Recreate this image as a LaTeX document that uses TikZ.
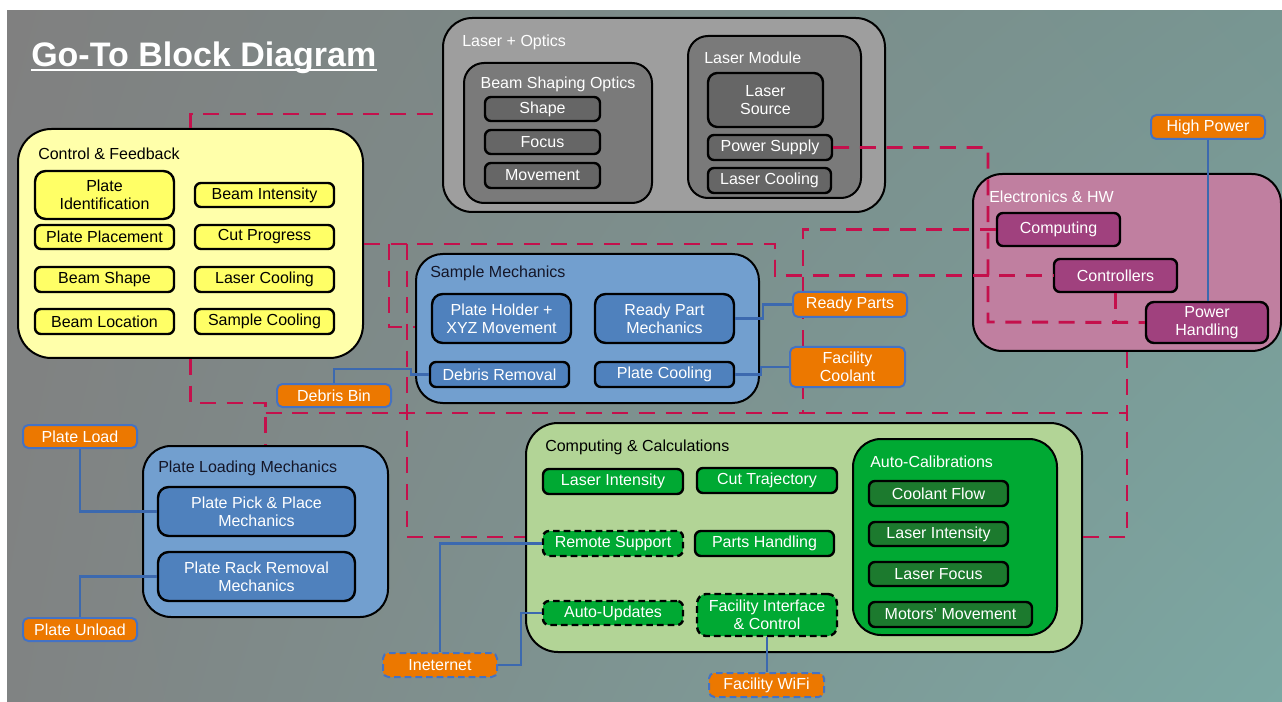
\documentclass[tikz,border=0pt]{standalone}
\usepackage{fontspec}
\setmainfont{Liberation Sans}
\usetikzlibrary{shadings}
\definecolor{crim}{RGB}{196,16,76}
\definecolor{wireblue}{RGB}{60,105,175}
\definecolor{obord}{RGB}{68,114,196}
\definecolor{ofill}{RGB}{236,120,0}
\definecolor{yelout}{RGB}{255,255,170}
\definecolor{yelin}{RGB}{255,255,102}
\definecolor{grayout}{RGB}{158,158,158}
\definecolor{graymid}{RGB}{122,122,122}
\definecolor{grayin}{RGB}{102,102,102}
\definecolor{blueout}{RGB}{114,159,207}
\definecolor{bluein}{RGB}{79,129,189}
\definecolor{pinkout}{RGB}{192,127,160}
\definecolor{pinkin}{RGB}{160,65,126}
\definecolor{greenout}{RGB}{178,212,150}
\definecolor{greenin}{RGB}{0,169,51}
\definecolor{greendark}{RGB}{28,122,46}
\definecolor{titledark}{RGB}{20,22,40}
\definecolor{bgA}{RGB}{128,128,128}
\definecolor{bgB}{RGB}{120,150,146}
\definecolor{bgC}{RGB}{128,131,131}
\definecolor{bgD}{RGB}{124,168,163}
\newcommand\bxfont{\fontsize{12}{13.5}\selectfont}
\begin{document}
\begin{tikzpicture}[x=0.75pt,y=-0.75pt,
  rect/.style n args={4}{at={({(#1+#3)/2},{(#2+#4)/2})}, anchor=center,
    minimum width={(#3-#1)*0.75pt}, minimum height={(#4-#2)*0.75pt}},
  cont/.style={draw=black, line width=1.5pt, rounded corners=#1, inner sep=0pt},
  cont/.default=22pt,
  box/.style={draw=black, line width=1.8pt, rounded corners=4.5pt, inner sep=0pt,
    align=center, text=white, font=\bxfont},
  dbox/.style={box, dash pattern=on 5pt off 3pt},
  obox/.style={draw=obord, fill=ofill, line width=1.5pt, rounded corners=4pt,
    inner sep=0pt, align=center, text=white, font=\bxfont},
  dobox/.style={obox, dash pattern=on 5pt off 3pt},
  ttl/.style={anchor=west, inner sep=0pt, font=\bxfont},
  link/.style={draw=crim, line width=2.2pt, dash pattern=on 12pt off 8pt},
  wire/.style={draw=wireblue, line width=2pt}]
\useasboundingbox (0,0) rectangle (1282,702);
\fill[white] (0,0) rectangle (1282,702);
\shade[upper left=bgA, upper right=bgB, lower left=bgC, lower right=bgD] (7,11) rectangle (1282,702);

% title
\node[anchor=base west, inner sep=0pt, text=white, font=\fontsize{25.5}{30}\selectfont\bfseries] (title) at (31,67) {Go-To Block Diagram};
\draw[white, line width=1.8pt] ([yshift=-2.4pt]title.base west) -- ([yshift=-2.4pt]title.base east);

% containers
\node[cont, fill=grayout, rect={443}{18}{885}{212}] (lo) {};
\node[cont=15pt, fill=graymid, rect={464}{63}{652}{203}] (bso) {};
\node[cont=15pt, fill=graymid, rect={688}{36}{861}{198}] (lm) {};
\node[cont=25pt, fill=yelout, rect={18}{129}{363}{358}] (cf) {};
\node[cont=20pt, fill=blueout, rect={416}{254}{759}{403}] (sm) {};
\node[cont, fill=pinkout, rect={973}{174}{1281}{351}] (ehw) {};
\node[cont=21pt, fill=blueout, rect={143}{446}{388}{617}] (plm) {};
\node[cont=24pt, fill=greenout, rect={526}{423}{1082}{652}] (cc) {};
\node[cont=21pt, fill=greenin, rect={853}{439}{1057}{635}] (ac) {};

% container titles
\node[ttl, text=white] (tlo) at (462,42) {Laser + Optics};
\node[inner sep=0pt, font=\bxfont, text=white] (tbso) at (558,84) {Beam Shaping Optics};
\node[ttl, text=white] (tlm) at (704,58) {Laser Module};
\node[ttl, text=black] (tcf) at (38,154) {Control \& Feedback};
\node[ttl, text=titledark] (tsm) at (430,273) {Sample Mechanics};
\node[ttl, text=white] (tehw) at (989,197) {Electronics \& HW};
\node[ttl, text=titledark] (tplm) at (158,468) {Plate Loading Mechanics};
\node[ttl, text=black] (tcc) at (545,447) {Computing \& Calculations};
\node[ttl, text=white] (tac) at (870,462) {Auto-Calibrations};

% laser + optics
\node[box, fill=grayin, rect={485}{97}{600}{121}] (shape) {Shape};
\node[box, fill=grayin, rect={485}{130}{600}{154}] (focus) {Focus};
\node[box, fill=grayin, rect={485}{163}{600}{188}] (move) {Movement};
\node[box, fill=grayin, rounded corners=7pt, rect={708}{73}{823}{127}] (lsrc) {Laser\\Source};
\node[box, fill=grayin, rect={708}{135}{832}{160}] (psu) {Power Supply};
\node[box, fill=grayin, rect={708}{168}{831}{193}] (lcool) {Laser Cooling};

% control & feedback
\node[box, fill=yelin, text=black, rounded corners=8pt, rect={35}{171}{174}{219}] (pid) {Plate\\Identification};
\node[box, fill=yelin, text=black, rect={195}{183}{334}{207}] (bint) {Beam Intensity};
\node[box, fill=yelin, text=black, rect={35}{225}{174}{249}] (ppl) {Plate Placement};
\node[box, fill=yelin, text=black, rect={195}{225}{334}{249}] (cprog) {Cut Progress};
\node[box, fill=yelin, text=black, rect={35}{267}{174}{292}] (bshape) {Beam Shape};
\node[box, fill=yelin, text=black, rect={195}{267}{334}{292}] (lcool2) {Laser Cooling};
\node[box, fill=yelin, text=black, rect={35}{309}{174}{334}] (bloc) {Beam Location};
\node[box, fill=yelin, text=black, rect={195}{309}{334}{334}] (scool) {Sample Cooling};

% sample mechanics
\node[box, fill=bluein, rounded corners=8pt, rect={432}{294}{571}{343}] (phx) {Plate Holder +\\XYZ Movement};
\node[box, fill=bluein, rounded corners=8pt, rect={595}{294}{734}{343}] (rpm) {Ready Part\\Mechanics};
\node[box, fill=bluein, rect={430}{362}{569}{387}] (drem) {Debris Removal};
\node[box, fill=bluein, rect={595}{362}{734}{387}] (pcool) {Plate Cooling};

% electronics
\node[box, fill=pinkin, rect={997}{213}{1120}{246}] (comp) {Computing};
\node[box, fill=pinkin, rect={1054}{259}{1177}{292}] (ctrl) {Controllers};
\node[box, fill=pinkin, rounded corners=6pt, rect={1146}{302}{1268}{343}] (ph) {Power\\Handling};

% plate loading
\node[box, fill=bluein, rounded corners=8pt, rect={158}{487}{355}{536}] (ppm) {Plate Pick \& Place\\Mechanics};
\node[box, fill=bluein, rounded corners=8pt, rect={158}{552}{355}{601}] (prm) {Plate Rack Removal\\Mechanics};

% computing & calculations
\node[box, fill=greenin, rect={543}{469}{683}{494}] (li) {Laser Intensity};
\node[box, fill=greenin, rect={697}{468}{837}{493}] (ct) {Cut Trajectory};
\node[dbox, fill=greenin, rect={543}{531}{683}{556}] (rs) {Remote Support};
\node[box, fill=greenin, rect={695}{531}{834}{556}] (phd) {Parts Handling};
\node[dbox, fill=greenin, rect={543}{601}{683}{625}] (au) {Auto-Updates};
\node[dbox, fill=greenin, rounded corners=7pt, rect={697}{594}{837}{636}] (fic) {Facility Interface\\\& Control};
\node[box, fill=greendark, rect={869}{481}{1008}{506}] (cfl) {Coolant Flow};
\node[box, fill=greendark, rect={869}{522}{1008}{546}] (li2) {Laser Intensity};
\node[box, fill=greendark, rect={869}{562}{1008}{586}] (lf) {Laser Focus};
\node[box, fill=greendark, rect={869}{602}{1032}{627}] (mm) {Motors’ Movement};

% dashed links
\draw[link] (cf.north) |- (lo.west |- 0,114);
\draw[link] (psu.east) -| (988,322) -- (ph.west);
\draw[link] (ctrl.south) -- (ctrl.south |- ph.west);
\draw[link] (comp.west) -| (803,413);
\draw[link] (cf.east |- 0,244) -| (775,260) |- (ctrl.west);
\draw[link] (389,244) |- (sm.west |- 0,327);
\draw[link] (407,244) |- (cc.west |- 0,537);
\draw[link] (cf.south) -- ++(0,44) -| (plm.north);
\draw[link] (plm.north |- 0,413) -- (ehw.south |- 0,413);
\draw[link] (ehw.south) |- (cc.east |- 0,537);

% orange boxes
\node[obox, rect={1151}{115}{1265}{139}] (hp) {High Power};
\node[obox, rect={793}{292}{907}{317}] (rp) {Ready Parts};
\node[obox, rect={790}{347}{905}{387}] (fc) {Facility\\Coolant};
\node[obox, rect={277}{384}{391}{407}] (db) {Debris Bin};
\node[obox, rect={23}{425}{137}{448}] (pl) {Plate Load};
\node[obox, rect={23}{618}{137}{641}] (pu) {Plate Unload};
\node[dobox, rect={383}{653}{497}{677}] (inet) {Ineternet};
\node[dobox, rect={709}{673}{824}{697}] (wifi) {Facility WiFi};

% wires
\draw[wire] (hp.south) -- (hp.south |- ph.north);
\draw[wire] (rpm.east) -| (763,311) |- (rp.west);
\draw[wire] (pcool.east) -| (761,371) |- (fc.west);
\draw[wire] (db.north) |- (411,369) |- (drem.west);
\draw[wire] (pl.south) |- (ppm.west);
\draw[wire] (pu.north) |- (prm.west);
\draw[wire] (rs.west) -| (inet.north);
\draw[wire] (au.west) -| (521,640) |- (inet.east);
\draw[wire] (fic.south) -- (fic.south |- wifi.north);
\end{tikzpicture}
\end{document}
